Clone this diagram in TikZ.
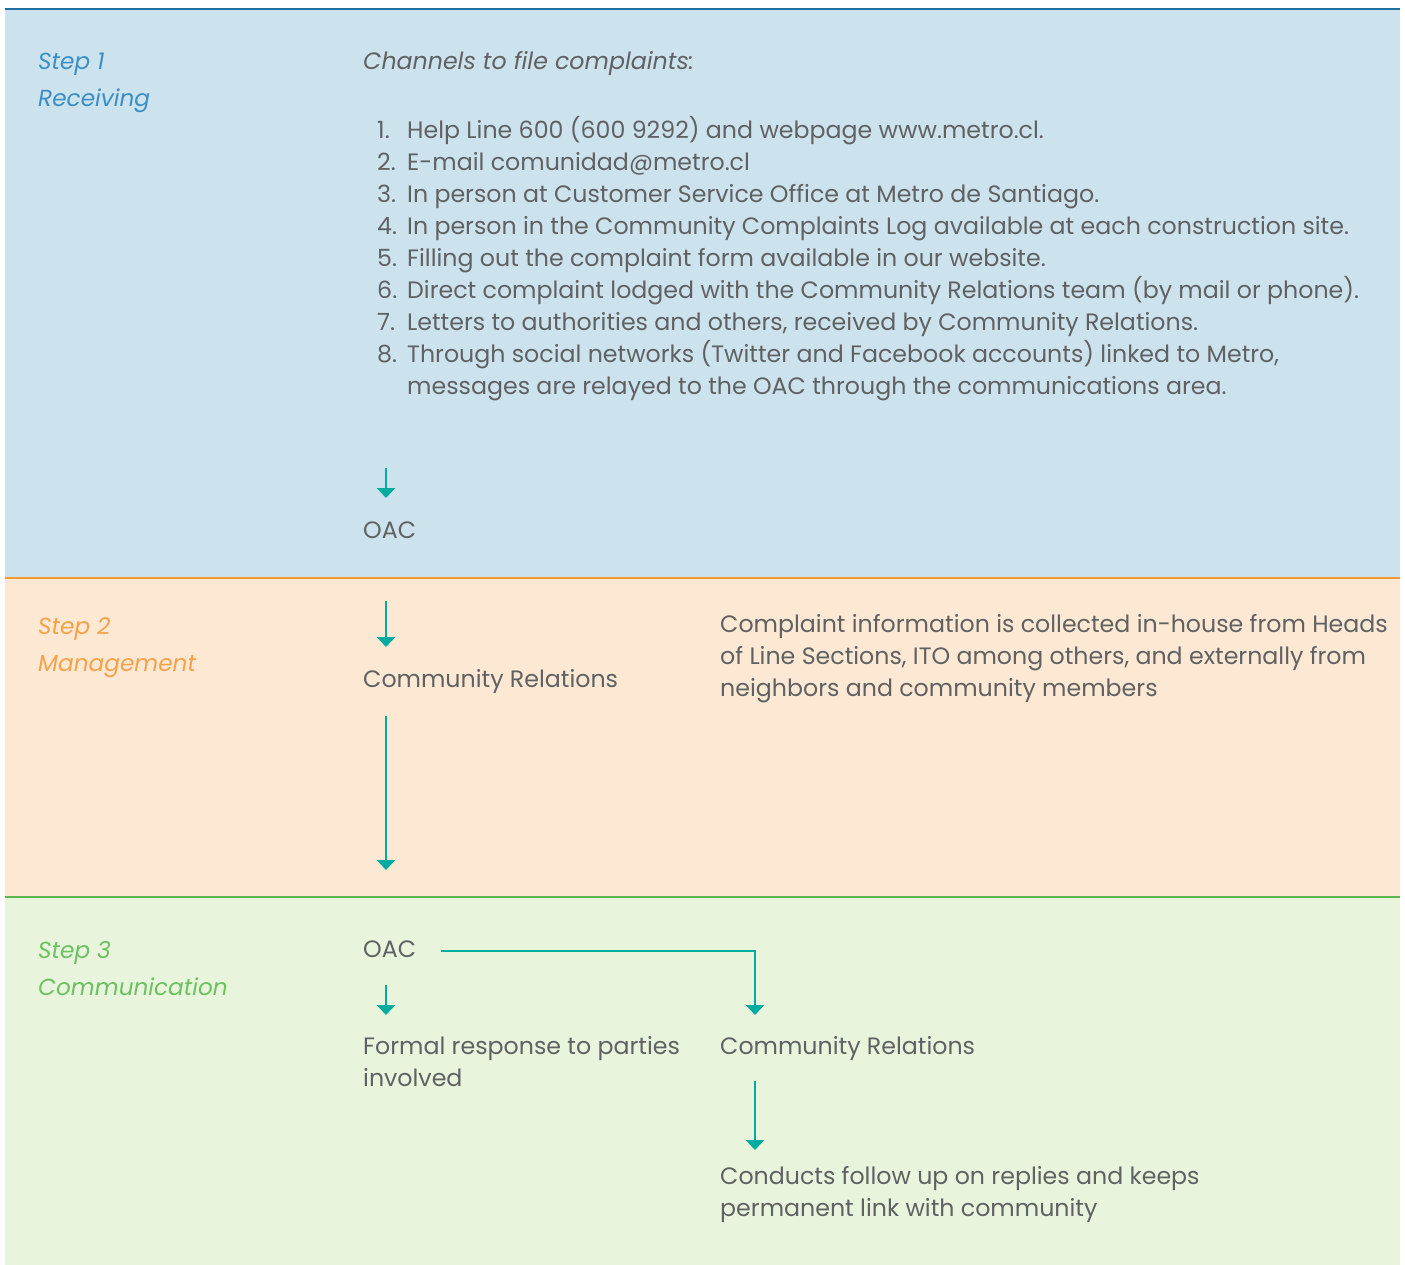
\documentclass[tikz,border=0pt]{standalone}
\usepackage{fontspec}
\setmainfont{Poppins}
\usepackage{tikz}
\usetikzlibrary{arrows.meta, calc}
\usepackage{xcolor}

\definecolor{bandblue}{HTML}{CCE2ED}
\definecolor{bandorange}{HTML}{FDE9D3}
\definecolor{bandgreen}{HTML}{E8F5DC}
\definecolor{lineblue}{HTML}{1F6FA0}
\definecolor{lineorange}{HTML}{F39A2E}
\definecolor{linegreen}{HTML}{5BB64E}
\definecolor{stepblue}{HTML}{3B8FC4}
\definecolor{steporange}{HTML}{F7A24A}
\definecolor{stepgreen}{HTML}{6CC160}
\definecolor{flowteal}{HTML}{00ABA0}
\definecolor{txtgray}{HTML}{606163}

\newcommand{\stacklines}[1]{\begin{tabular}[t]{@{}l@{}}#1\end{tabular}}

\tikzset{
  body/.style={anchor=base west, inner sep=0pt, text=txtgray, font=\fontsize{23.7}{32}\selectfont},
  steplabel/.style={anchor=base west, inner sep=0pt, font=\fontsize{23.2}{37}\selectfont\itshape},
  flow/.style={draw=flowteal, line width=2.6pt, -{Triangle[width=18pt,length=10pt]}},
}

\begin{document}
\begin{tikzpicture}[x=1pt,y=-1pt]
\useasboundingbox (0,0) rectangle (1405,1265);
% bands
\fill[bandblue] (5,9) rectangle (1400,578);
\fill[bandorange] (5,578) rectangle (1400,897);
\fill[bandgreen] (5,897) rectangle (1400,1265);
\draw[line width=2pt, lineblue] (5,9) -- (1400,9);
\draw[line width=2.5pt, lineorange] (5,578) -- (1400,578);
\draw[line width=2.5pt, linegreen] (5,897) -- (1400,897);

% step labels
\node[steplabel, text=stepblue] (step1) at (38,70) {\stacklines{Step 1\\Receiving}};
\node[steplabel, text=steporange] (step2) at (38,634) {\stacklines{Step 2\\Management}};
\node[steplabel, text=stepgreen] (step3) at (38,958) {\stacklines{Step 3\\Communication}};

% step 1
\node[body, font=\fontsize{23.7}{32}\selectfont\itshape] (chantitle) at (363,70) {Channels to file complaints:};
\node[body] (chanlist) at (377,139) {\begin{tabular}[t]{@{}p{30pt}@{}l@{}}
1. & Help Line 600 (600 9292) and webpage www.metro.cl.\\
2. & E-mail comunidad@metro.cl\\
3. & In person at Customer Service Office at Metro de Santiago.\\
4. & In person in the Community Complaints Log available at each construction site.\\
5. & Filling out the complaint form available in our website.\\
6. & Direct complaint lodged with the Community Relations team (by mail or phone).\\
7. & Letters to authorities and others, received by Community Relations.\\
8. & Through social networks (Twitter and Facebook accounts) linked to Metro,\\
   & messages are relayed to the OAC through the communications area.
\end{tabular}};
\node[body] (oac1) at (363,538) {OAC};

% step 2
\node[body] (cr1) at (363,687) {Community Relations};
\node[body] (info) at (720,632) {\stacklines{Complaint information is collected in-house from Heads\\
of Line Sections, ITO among others, and externally from\\
neighbors and community members}};

% step 3
\node[body] (oac2) at (363,957) {OAC};
\node[body] (formal) at (363,1054) {\stacklines{Formal response to parties\\involved}};
\node[body] (cr2) at (720,1054) {Community Relations};
\node[body] (follow) at (720,1184) {\stacklines{Conducts follow up on replies and keeps\\permanent link with community}};

% connectors
\coordinate (ax) at (386,0);
\coordinate (bx) at (755,0);
\draw[flow] ($(ax |- chanlist.south)+(0,63)$) -- ($(ax |- oac1.base)+(0,-40)$);
\draw[flow] ($(ax |- oac1.base)+(0,63)$) -- ($(ax |- cr1.base)+(0,-40)$);
\draw[flow] ($(ax |- cr1.base)+(0,29)$) -- ($(ax |- oac2.base)+(0,-87)$);
\draw[flow] ($(ax |- oac2.base)+(0,28)$) -- ($(ax |- formal.base)+(0,-39)$);
\draw[flow] ($(oac2.base east)+(25,-6)$) -| ($(bx |- cr2.base)+(0,-39)$);
\draw[flow] ($(bx |- cr2.base)+(0,27)$) -- ($(bx |- follow.base)+(0,-34)$);
\end{tikzpicture}
\end{document}
